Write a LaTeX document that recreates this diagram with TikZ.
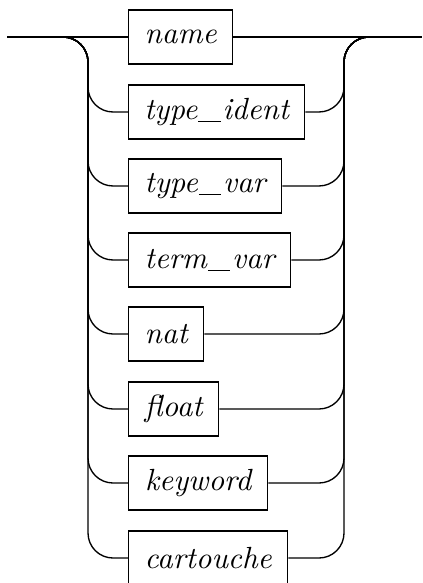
\documentclass[tikz,border=0pt]{standalone}
\newcommand\usc{\kern0.03em\rule[-0.07em]{0.74em}{0.035em}\kern0.05em}
\begin{document}
\begin{tikzpicture}[x=0.3135pt, y=-0.3135pt,
  box/.style={draw, line width=0.42pt, anchor=west, minimum height=16.93pt, inner sep=0pt, font=\fontsize{9.6}{11}\selectfont\itshape},
  rail/.style={line width=0.42pt, rounded corners=7.84pt}]
\useasboundingbox (0,0) rectangle (422,583);
\coordinate (L) at (7,37);
\coordinate (R) at (422,37);
\coordinate (LJ) at (50,37);
\coordinate (RJ) at (400,37);
\coordinate (VL) at (88,37);
\coordinate (VR) at (344,37);
\node[box, minimum width=32.60pt] (n1) at (128,37) {name};
\node[box, minimum width=55.18pt] (n2) at (128,112) {type\usc ident};
\node[box, minimum width=47.97pt] (n3) at (128,186) {type\usc var};
\node[box, minimum width=50.79pt] (n4) at (128,260) {term\usc var};
\node[box, minimum width=23.51pt] (n5) at (128,334) {nat};
\node[box, minimum width=28.22pt] (n6) at (128,409) {float};
\node[box, minimum width=43.58pt] (n7) at (128,483) {keyword};
\node[box, minimum width=49.85pt] (n8) at (128,558) {cartouche};
\draw[rail] (L) -- (n1.west);
\draw[rail] (n1.east) -- (R);
\foreach \i in {2,...,8} {
  \draw[rail] (LJ) -- (VL) -- (VL |- n\i.west) -- (n\i.west);
  \draw[rail] (n\i.east) -- (VR |- n\i.east) -- (VR) -- (RJ);
}
\end{tikzpicture}
\end{document}
